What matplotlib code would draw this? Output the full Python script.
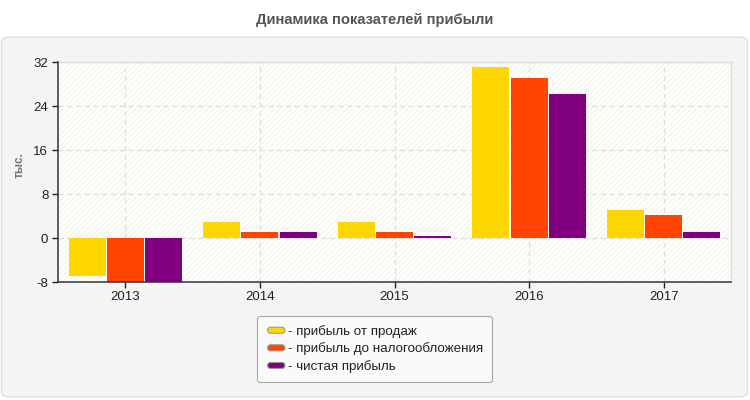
import matplotlib
matplotlib.use("Agg")
import matplotlib.pyplot as plt
import numpy as np
from matplotlib.patches import FancyBboxPatch, Rectangle
from matplotlib.legend_handler import HandlerBase

years = ["2013", "2014", "2015", "2016", "2017"]
sales_profit = [-6.8, 3.0, 3.0, 31.1, 5.1]
pretax_profit = [-8.0, 1.2, 1.2, 29.1, 4.2]
net_profit = [-8.0, 1.2, 0.35, 26.2, 1.2]
series_names = ["- прибыль от продаж", "- прибыль до налогообложения", "- чистая прибыль"]
colors = ["#FFD700", "#FF4500", "#800080"]
y_ticks = [-8, 0, 8, 16, 24, 32]

plt.rcParams['font.family'] = ['Liberation Sans', 'DejaVu Sans']
plt.rcParams['axes.unicode_minus'] = False
plt.rcParams['hatch.linewidth'] = 0.6
plt.rcParams['hatch.color'] = '#efefef'

fig = plt.figure(figsize=(7.5, 4.0), dpi=100)
fig.patch.set_facecolor('white')

# outer panel
panel = FancyBboxPatch((1.5/750, 3/400), 746/750, (400-37-3)/400,
                       boxstyle="round,pad=0,rounding_size=0.012",
                       transform=fig.transFigure, facecolor='#f4f4f4',
                       edgecolor='#e0e0e0', linewidth=1, zorder=-5)
fig.patches.append(panel)

fig.text(375/750, 1 - 20/400, "Динамика показателей прибыли", ha='center', va='center',
         fontsize=10.6, fontweight='bold', color='#555555')

ax = fig.add_axes([58/750, 1 - 282.3/400, (731-58)/750, (282.3-62.3)/400])
ax.set_zorder(1)
ax.set_facecolor('#fefefa')
bg = Rectangle((0, 0), 1, 1, transform=ax.transAxes, facecolor='#fefefa',
               hatch='//////', edgecolor='#efefef', linewidth=0, zorder=0)
ax.add_patch(bg)

x = np.arange(len(years))
w = 0.284
for i, (vals, c, name) in enumerate(zip([sales_profit, pretax_profit, net_profit], colors, series_names)):
    ax.bar(x + (i - 1) * w, vals, width=w * 0.97, color=c, linewidth=0, zorder=3, label=name)

ax.set_xlim(-0.5, 4.5)
ax.set_ylim(-8, 32)
ax.set_yticks(y_ticks)
ax.set_xticks(x)
ax.set_xticklabels(years)
ax.grid(True, color='#dddddd', linestyle=(0, (4, 3)), linewidth=0.9, zorder=1)
ax.set_axisbelow(True)

for s in ['top', 'right']:
    ax.spines[s].set_color('#dddddd')
    ax.spines[s].set_linewidth(1)
for s in ['left', 'bottom']:
    ax.spines[s].set_color('#333333')
    ax.spines[s].set_linewidth(1.1)
ax.spines['left'].set_zorder(4)
ax.spines['bottom'].set_zorder(4)
ax.tick_params(axis='both', labelsize=9.5, colors='#222222', length=4, width=1)
ax.tick_params(axis='y', pad=3)
ax.tick_params(axis='x', pad=2)

fig.text(20/750, 1 - 165/400, "тыс.", rotation=90, ha='center', va='center',
         fontsize=8.5, fontweight='bold', color='#777777')


class RoundHandler(HandlerBase):
    def create_artists(self, legend, orig_handle, xdescent, ydescent, width, height, fontsize, trans):
        p = FancyBboxPatch((-xdescent + 1, -ydescent + 1.5), width - 2, height - 3,
                           boxstyle="round,pad=0,rounding_size=2",
                           facecolor=orig_handle.get_facecolor(), edgecolor='#999999',
                           linewidth=0.8, transform=trans)
        return [p]

handles = [Rectangle((0, 0), 1, 1, facecolor=c) for c in colors]
leg = fig.legend(handles, series_names, loc='center', bbox_to_anchor=(374.5/750, 1 - 349/400),
                 fontsize=9.6, frameon=True, fancybox=True, framealpha=1,
                 handler_map={Rectangle: RoundHandler()}, handlelength=1.5, handleheight=0.8,
                 handletextpad=0.1, labelspacing=0.35, borderpad=0.7)
leg.set_zorder(5)
leg.get_frame().set_facecolor('#fafafa')
leg.get_frame().set_edgecolor('#aaaaaa')
leg.get_frame().set_linewidth(0.8)
for t in leg.get_texts():
    t.set_color('#222222')

fig.savefig("out.png", dpi=100, facecolor=fig.get_facecolor())
